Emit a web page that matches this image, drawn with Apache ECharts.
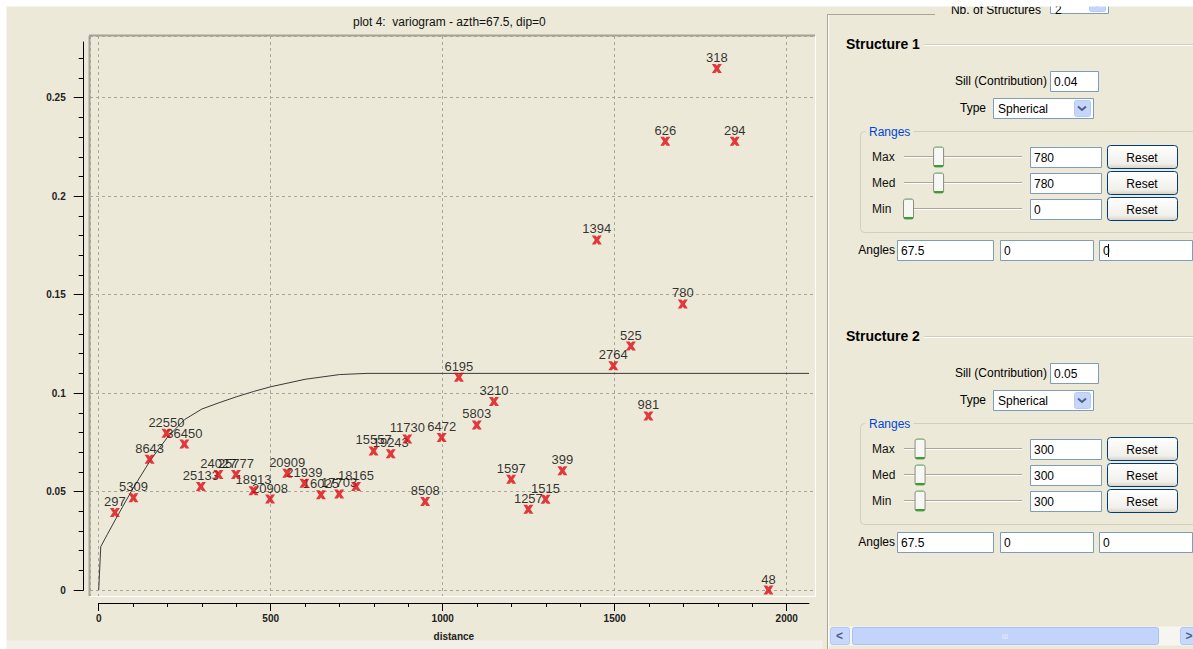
<!DOCTYPE html>
<html>
<head>
<meta charset="utf-8">
<title>plot 4: variogram</title>
<script src="https://cdn.jsdelivr.net/npm/echarts@6/dist/echarts.min.js"></script>
<style>
    html, body { margin: 0; padding: 0; background: #fff; }
    #chart { width: 1193px; height: 649px; }
</style>
</head>
<body>
<div id="chart"></div>
<script>
    // experimental variogram: lag distance, gamma, number of pairs
    var lagDist = [47, 101, 148, 197, 249, 297, 348, 399, 450, 498, 548, 598, 646, 699, 748, 799, 849, 897,
        949, 997, 1047, 1099, 1149, 1199, 1249, 1299, 1348, 1448, 1496, 1547, 1598, 1647, 1698, 1797, 1849, 1947];
    var gammaVal = [0.0393, 0.0469, 0.0664, 0.0796, 0.0741, 0.0525, 0.0587, 0.0587, 0.0504, 0.0462, 0.0593,
        0.0542, 0.0484, 0.0488, 0.0525, 0.0706, 0.0692, 0.0767, 0.0449, 0.0775, 0.108, 0.0838, 0.0957, 0.0562,
        0.041, 0.0461, 0.0606, 0.1778, 0.1139, 0.1239, 0.0884, 0.2279, 0.1453, 0.2648, 0.2279, 0];
    var pairCounts = [297, 5309, 8643, 22550, 36450, 25133, 24027, 25777, 18913, 20908, 20909, 21939, 16025,
        17703, 18165, 15557, 19243, 11730, 8508, 6472, 6195, 5803, 3210, 1597, 1257, 1515, 399, 1394, 2764, 525,
        981, 626, 780, 318, 294, 48];

    // fitted model curve
    var modelDist = [0, 6, 25, 50, 100, 150, 200, 250, 300, 350, 400, 450, 500, 600, 700, 780, 2065];
    var modelGamma = [0, 0.022, 0.0282, 0.0362, 0.0517, 0.0658, 0.0776, 0.0866, 0.0919, 0.0951, 0.0981,
        0.1008, 0.1032, 0.107, 0.1094, 0.11, 0.11];

    var xMajorTicks = [0, 500, 1000, 1500, 2000];
    var xMinorTicks = [];
    for (var t = 100; t < 2065; t += 100) xMinorTicks.push(t);
    var yMajorTicks = [0, 0.05, 0.1, 0.15, 0.2, 0.25];
    var yMinorTicks = [];
    for (var k = 1; k <= 27; k++) yMinorTicks.push(k / 100);

    // settings panel values
    var nbStructures = '2';
    var sillValues = ['0.04', '0.05'];
    var typeValues = ['Spherical', 'Spherical'];
    var rangeNames = ['Max', 'Med', 'Min'];
    var ranges1 = [780, 780, 0];
    var ranges2 = [300, 300, 300];
    var angles1 = ['67.5', '0', '0'];
    var angles2 = ['67.5', '0', '0'];

    var FONT = '"Liberation Sans", Arial, sans-serif';
    var BG = '#ECE9D8';

    // pixel geometry of the plot (frame and axis box)
    var X0 = 98.7, PXX = 0.344, Y0 = 590, PXY = 1969.2;
    var FL = 90, FT = 36, FR = 815, FB = 596;
    var AL = 98.7, AT = 42, AR = 809, AB = 590;
    function xv(px) { return (px - X0) / PXX; }
    function yv(py) { return (Y0 - py) / PXY; }

    var points = lagDist.map(function (d, i) { return [d, gammaVal[i], pairCounts[i]]; });
    var model = modelDist.map(function (d, i) { return [d, modelGamma[i]]; });

    // ---------- graphic helpers ----------
    function txt(x, y, s, o) {
        return {
            type: 'text', x: x, y: y, silent: true, z: 20,
            style: Object.assign({text: s, fill: '#000', font: '12px ' + FONT, align: 'left', verticalAlign: 'middle'}, o || {})
        };
    }
    function rect(x, y, w, h, fill, stroke, r, z) {
        return {
            type: 'rect', silent: true, z: z || 10,
            shape: {x: x + 0.5, y: y + 0.5, width: w, height: h, r: r || 0},
            style: {fill: fill, stroke: stroke || null, lineWidth: 1}
        };
    }
    function line(x1, y1, x2, y2, color, w, z) {
        return {
            type: 'line', silent: true, z: z || 10,
            shape: {x1: x1, y1: y1, x2: x2, y2: y2},
            style: {stroke: color, lineWidth: w || 1}
        };
    }
    function field(x, y, w, h, value) {
        return [rect(x, y, w, h, '#fff', '#7F9DB9'), txt(x + 4, y + h / 2 + 1, value)];
    }
    function resetBtn(x, y) {
        var b = rect(x, y, 70, 23, new echarts.graphic.LinearGradient(0, 0, 0, 1, [
            {offset: 0, color: '#FFFFFF'}, {offset: 0.8, color: '#F0EFEA'}, {offset: 1, color: '#D6D0C5'}
        ]), '#003C74', 3);
        return [b, txt(x + 35, y + 12.5, 'Reset', {align: 'center'})];
    }
    function combo(x, y, w, h, value, ty) {
        var cy = ty != null ? ty : y + h / 2 + 1;
        return [
            rect(x, y, w, h, '#fff', '#7F9DB9'),
            txt(x + 5, cy, value),
            rect(x + w - 19, y + 2, 16, h - 4, '#C6D6FB', '#B7CAF5', 2),
            {
                type: 'polyline', silent: true, z: 12,
                shape: {points: [[x + w - 15, y + h / 2 - 1.5], [x + w - 11, y + h / 2 + 2], [x + w - 7, y + h / 2 - 1.5]]},
                style: {stroke: '#4D6185', lineWidth: 2, fill: null}
            }
        ];
    }
    function slider(yc, value) {
        var tx = 908.5 + value / 2800 * 108;
        return [
            line(904, yc - 0.5, 1022, yc - 0.5, '#A9A699'),
            line(904, yc + 0.5, 1022, yc + 0.5, '#FFFFFF'),
            rect(tx - 5.5, yc - 10.5, 10, 20, '#F7F7F3', '#8E8C82', 2, 11),
            line(tx - 4.5, yc + 9, tx + 4.5, yc + 9, '#2FA52F', 2, 12),
            line(tx - 4.5, yc - 9.5, tx + 4.5, yc - 9.5, '#86C886', 1, 12)
        ];
    }
    function structureBlock(top, title, sill, type, vals, angles, cursor) {
        var g = [];
        g.push(txt(846, top, title, {font: 'bold 14px ' + FONT}));
        g.push(line(924, top + 0.5, 1193, top + 0.5, '#D0CEBF'));
        g.push(line(924, top + 1.5, 1193, top + 1.5, '#FFFFFF'));
        g.push(txt(1047, top + 37, 'Sill (Contribution)', {align: 'right'}));
        g = g.concat(field(1050, top + 27, 48, 20, sill));
        g.push(txt(986, top + 64, 'Type', {align: 'right'}));
        g = g.concat(combo(993, top + 54, 100, 20, type));
        // Ranges group box
        g.push(rect(860, top + 87, 345, 101, null, '#D0D0BF', 4));
        g.push(rect(865, top + 80, 48, 14, BG, null, 0, 11));
        g.push(txt(869, top + 88, 'Ranges', {fill: '#0046D5'}));
        var rows = [113, 139, 165];
        for (var i = 0; i < 3; i++) {
            var yc = top + rows[i];
            g.push(txt(872, yc, rangeNames[i], {fill: '#111'}));
            g = g.concat(slider(yc, vals[i]));
            g = g.concat(field(1030, yc - 10, 71, 20, String(vals[i])));
            g = g.concat(resetBtn(1107, yc - 12));
        }
        var ay = top + 206;
        g.push(txt(895, ay, 'Angles', {align: 'right'}));
        g = g.concat(field(897, ay - 10, 96, 20, angles[0]));
        g = g.concat(field(1000, ay - 10, 93, 20, angles[1]));
        g = g.concat(field(1099, ay - 10, 93, 20, angles[2]));
        if (cursor) g.push(line(1108.5, ay - 6, 1108.5, ay + 7, '#000', 1, 21));
        return g;
    }

    var graphics = [];
    // page border bands
    graphics.push(rect(-1, -1, 1195, 7, '#FFFFFF', null, 0, 30));
    graphics.push(rect(-1, -1, 7, 651, '#FFFFFF', null, 0, 30));
    graphics.push(rect(6, 640, 816, 10, '#F2F0E8', null, 0, 4));
    // plot frame (sunken)
    graphics.push(line(FL - 0.5, FT, FL - 0.5, FB, '#A5A296', 2, 5));
    graphics.push(line(FL - 1, FT - 0.5, FR, FT - 0.5, '#A5A296', 2, 5));
    graphics.push(line(FR + 0.5, FT, FR + 0.5, FB + 1, '#FFFFFF', 1, 5));
    graphics.push(line(FL, FB + 0.5, FR + 1, FB + 0.5, '#FFFFFF', 1, 5));
    // settings panel
    graphics.push(line(827.5, 14, 827.5, 649, '#A7A59B', 1, 9));
    graphics.push(line(828.5, 14, 828.5, 649, '#FFFFFF', 1, 9));
    graphics.push(line(828, 14.5, 935, 14.5, '#A7A59B', 1, 9));
    graphics.push(txt(1041, 9.5, 'Nb. of Structures', {align: 'right'}));
    graphics = graphics.concat(combo(1050, -6, 58, 19, nbStructures, 9.5));
    graphics = graphics.concat(structureBlock(44, 'Structure 1', sillValues[0], typeValues[0], ranges1, angles1, true));
    graphics = graphics.concat(structureBlock(336, 'Structure 2', sillValues[1], typeValues[1], ranges2, angles2, false));
    // horizontal scrollbar
    graphics.push(rect(829, 626, 364, 19, '#F6F5EF', null, 0, 10));
    graphics.push(rect(830, 627, 19, 17, '#C8D7FC', '#B4C8F4', 2, 11));
    graphics.push(txt(839.5, 636, '<', {align: 'center', font: 'bold 12px ' + FONT, fill: '#4D6185'}));
    graphics.push(rect(852, 627, 306, 17, '#C3D4FC', '#A9C0F5', 2, 11));
    graphics.push(txt(1005, 636, 'III', {align: 'center', font: '7px ' + FONT, fill: '#EEF3FF'}));
    graphics.push(rect(1180, 627, 19, 17, '#C8D7FC', '#B4C8F4', 2, 11));
    graphics.push(txt(1189, 636, '>', {align: 'center', font: 'bold 12px ' + FONT, fill: '#4D6185'}));

    var xMark = 'path://M0,0 L3.6,0 L5,1.8 L6.4,0 L10,0 L7,4.5 L10,9 L6.4,9 L5,7.2 L3.6,9 L0,9 L3,4.5 Z';
    function plain(v) { return String(v); }

    var chart = echarts.init(document.getElementById('chart'), null, {renderer: 'svg'});
    chart.setOption({
        backgroundColor: BG,
        animation: false,
        title: {
            text: 'plot 4:  variogram - azth=67.5, dip=0',
            left: 353, top: 16, padding: 0,
            textStyle: {fontSize: 12, fontWeight: 'normal', color: '#111', fontFamily: FONT}
        },
        grid: [
            {left: FL, top: FT, width: FR - FL, height: FB - FT},
            {left: AL, top: AT, width: AR - AL, height: AB - AT}
        ],
        xAxis: [
            {
                gridIndex: 0, type: 'value', min: xv(FL), max: xv(FR), splitNumber: 5,
                axisLine: {show: false, onZero: false}, axisTick: {show: false}, axisLabel: {show: false},
                splitLine: {show: true, lineStyle: {color: '#A9A79C', type: [3, 3], width: 1}}
            },
            {
                gridIndex: 1, type: 'value', min: 0, max: xv(AR), offset: 13, position: 'bottom',
                axisLine: {onZero: false, lineStyle: {color: '#000', width: 1}},
                axisTick: {customValues: xMajorTicks, length: 8, lineStyle: {color: '#000'}},
                axisLabel: {customValues: xMajorTicks, formatter: plain, margin: 10, fontSize: 10, fontWeight: 'bold', color: '#222', fontFamily: FONT},
                splitLine: {show: false},
                name: 'distance', nameLocation: 'middle', nameGap: 28,
                nameTextStyle: {fontSize: 10, fontWeight: 'bold', color: '#222', fontFamily: FONT}
            },
            {
                gridIndex: 1, type: 'value', min: 0, max: xv(AR), offset: 13, position: 'bottom',
                axisLine: {show: false, onZero: false},
                axisTick: {customValues: xMinorTicks, length: 4, lineStyle: {color: '#000'}},
                axisLabel: {show: false}, splitLine: {show: false}
            }
        ],
        yAxis: [
            {
                gridIndex: 0, type: 'value', min: yv(FB), max: yv(FT), splitNumber: 5,
                axisLine: {show: false, onZero: false}, axisTick: {show: false}, axisLabel: {show: false},
                splitLine: {show: true, lineStyle: {color: '#A9A79C', type: [3, 3], width: 1}}
            },
            {
                gridIndex: 1, type: 'value', min: 0, max: yv(AT), offset: 15, position: 'left',
                axisLine: {onZero: false, lineStyle: {color: '#000', width: 1}},
                axisTick: {customValues: yMajorTicks, length: 10, lineStyle: {color: '#000'}},
                axisLabel: {customValues: yMajorTicks, formatter: plain, margin: 18, fontSize: 10, fontWeight: 'bold', color: '#222', fontFamily: FONT},
                splitLine: {show: false}
            },
            {
                gridIndex: 1, type: 'value', min: 0, max: yv(AT), offset: 15, position: 'left',
                axisLine: {show: false, onZero: false},
                axisTick: {customValues: yMinorTicks, length: 5, lineStyle: {color: '#000'}},
                axisLabel: {show: false}, splitLine: {show: false}
            }
        ],
        series: [
            {
                type: 'line', xAxisIndex: 0, yAxisIndex: 0, data: model, z: 2,
                symbol: 'none', silent: true,
                lineStyle: {color: '#3A3A3A', width: 1}
            },
            {
                type: 'scatter', xAxisIndex: 0, yAxisIndex: 0, data: points, z: 3,
                symbolSize: 1, silent: true,
                itemStyle: {color: 'transparent'},
                label: {
                    show: true, position: 'inside', offset: [0, -11],
                    formatter: function (p) { return p.value[2]; },
                    fontSize: 13, color: '#000', textBorderWidth: 0, fontFamily: FONT
                }
            },
            {
                type: 'scatter', xAxisIndex: 0, yAxisIndex: 0, data: points, z: 4,
                symbol: xMark, symbolSize: [10, 9], silent: true,
                itemStyle: {color: '#E00A14'}
            }
        ],
        graphic: graphics
    });
</script>
</body>
</html>
